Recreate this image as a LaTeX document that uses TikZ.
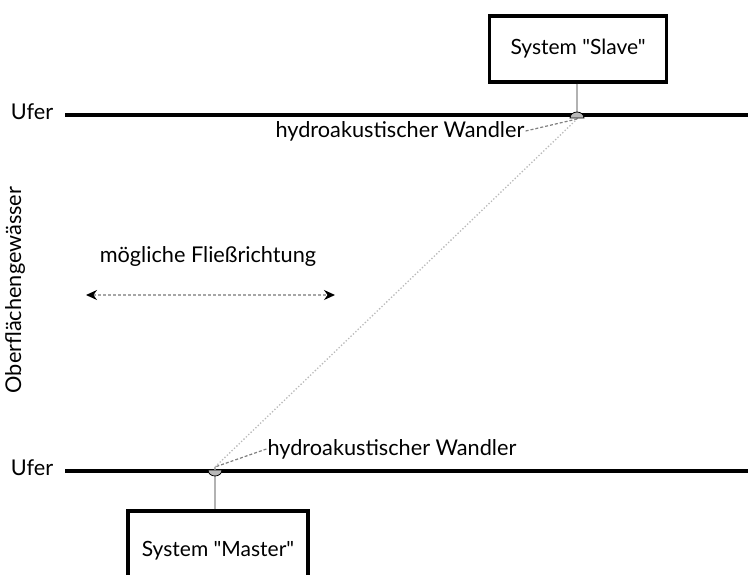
\documentclass[tikz,border=0pt]{standalone}
\usepackage{fontspec}
\setmainfont{Lato}[Ligatures=TeXOff]
\usepackage{tikz}
\usetikzlibrary{positioning, arrows.meta, calc}

\begin{document}
\begin{tikzpicture}[
  x=1pt, y=-1pt,
  systembox/.style={draw, line width=3.2pt, fill=white, align=center,
              font=\fontsize{21}{25}\selectfont},
  label/.style={font=\fontsize{21.7}{25}\selectfont, inner sep=1pt},
  shore/.style={line width=3.4pt},
  linkline/.style={gray!60, line width=1.2pt},
  wandler/.style={draw, fill=gray!55, line width=0.8pt},
  >=Stealth
]
  \clip (0,0) rectangle (748,574);

  % Shores
  \node[label] (ufertop) at (32,112) {Ufer};
  \node[label] (uferbot) at (32,468) {Ufer};
  \draw[shore] (65,115) -- (748,115);
  \draw[shore] (65,471) -- (748,471);

  % Transducers
  \coordinate (tslave) at (577,119);
  \coordinate (tmaster) at (215,467);

  % Systems
  \node[systembox, minimum width=177pt, minimum height=66pt] (slave)
    at (578,49) {System "Slave"};
  \node[systembox, minimum width=180pt, minimum height=80pt] (master)
    at (218,551) {System "Master"};
  \draw[linkline] (slave.south -| tslave) -- (tslave);
  \draw[linkline] (master.north -| tmaster) -- (tmaster);

  % Acoustic path
  \draw[gray!55, line width=1.3pt, dotted] (tmaster) -- (tslave);
  \filldraw[wandler] (570,118) arc (180:360:7 and 6) -- cycle;
  \filldraw[wandler] (208,470) arc (180:0:7 and 6) -- cycle;

  % Labels
  \node[label] (wslave) at (400,131) {hydroakustischer Wandler};
  \node[label] (wmaster) at (392,449) {hydroakustischer Wandler};
  \draw[gray, line width=1.2pt, densely dashed] (wslave.east) -- (tslave);
  \draw[gray, line width=1.2pt, densely dashed] (wmaster.west) -- (tmaster);

  % Flow direction
  \node[label] (flow) at (208,256) {mögliche Fließrichtung};
  \coordinate (fl) at (86,295);
  \coordinate (fr) at (335,295);
  \draw[gray!70, line width=1.4pt, densely dashed,
        {Stealth[black,length=11pt,width=10pt]}-{Stealth[black,length=11pt,width=10pt]}]
    (fl) -- (fr);

  \node[label, rotate=90] (gewaesser) at (15,290) {Oberflächengewässer};
\end{tikzpicture}
\end{document}
